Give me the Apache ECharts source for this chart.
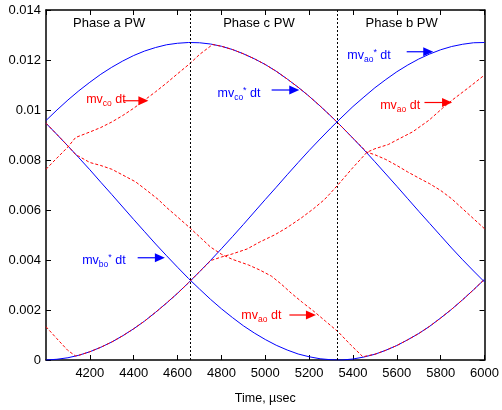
<!DOCTYPE html>
<html><head><meta charset="utf-8">
<script src="https://cdn.jsdelivr.net/npm/echarts@6/dist/echarts.min.js"></script>
<style>html,body{margin:0;padding:0;background:#fff}#c{width:502px;height:410px}</style>
</head><body><div id="c"></div>
<script>
// ---- data ----
const times = [4000,4050,4100,4150,4200,4250,4300,4350,4400,4450,4500,4550,4600,4650,4700,4750,4800,4850,4900,4950,5000,5050,5100,5150,5200,5250,5300,5350,5400,5450,5500,5550,5600,5650,5700,5750,5800,5850,5900,5950,6000];
const mvCoRef = [0.00958,0.01000,0.01040,0.01077,0.01111,0.01143,0.01171,0.01196,0.01218,0.01236,0.01250,0.01261,0.01267,0.01270,0.01269,0.01264,0.01255,0.01242,0.01225,0.01205,0.01182,0.01155,0.01124,0.01091,0.01055,0.01016,0.00975,0.00932,0.00887,0.00841,0.00793,0.00744,0.00695,0.00645,0.00595,0.00546,0.00497,0.00448,0.00401,0.00356,0.00312];
const mvAoRef = [0.00000,0.00003,0.00009,0.00019,0.00033,0.00051,0.00072,0.00097,0.00125,0.00156,0.00191,0.00228,0.00267,0.00309,0.00353,0.00398,0.00445,0.00493,0.00542,0.00592,0.00642,0.00691,0.00741,0.00790,0.00838,0.00884,0.00929,0.00972,0.01014,0.01052,0.01089,0.01122,0.01153,0.01180,0.01204,0.01224,0.01241,0.01254,0.01263,0.01269,0.01270];
const mvBoRef = [0.00947,0.00902,0.00856,0.00809,0.00761,0.00711,0.00662,0.00612,0.00562,0.00513,0.00464,0.00417,0.00371,0.00326,0.00284,0.00243,0.00205,0.00170,0.00137,0.00108,0.00082,0.00059,0.00040,0.00024,0.00013,0.00005,0.00001,0.00000,0.00004,0.00012,0.00023,0.00039,0.00058,0.00081,0.00106,0.00135,0.00168,0.00203,0.00241,0.00281,0.00323];

const mvCoTimes = [4000,4050,4100,4135,4200,4250,4300,4350,4400,4450,4500,4550,4600,4658,4700,4760,4800,4850,4900,4950,5000,5050,5100,5150,5200,5250,5300,5350,5400,5464,5500,5550,5600,5650,5700,5750,5800,5850,5900,5950,6000];
const mvCo = [0.00763,0.00808,0.00852,0.00890,0.00912,0.00930,0.00952,0.00978,0.01007,0.01040,0.01073,0.01108,0.01145,0.01187,0.01222,0.01262,0.01255,0.01242,0.01225,0.01205,0.01182,0.01155,0.01124,0.01091,0.01055,0.01016,0.00975,0.00932,0.00887,0.00831,0.00821,0.00802,0.00778,0.00752,0.00728,0.00705,0.00678,0.00645,0.00605,0.00565,0.00525];

const mvBoTimes = [4000,4050,4100,4135,4200,4250,4300,4350,4408,4450,4512,4550,4600,4658,4700,4750,4800,4849,4924,4975,5029,5075,5119,5170,5224,5275,5332,5390,5445,5500,5550,5600,5650,5700,5750,5800,5850,5900,5950,6000];
const mvBo = [0.00947,0.00902,0.00856,0.00822,0.00790,0.00778,0.00763,0.00740,0.00713,0.00685,0.00642,0.00610,0.00572,0.00527,0.00493,0.00452,0.00423,0.00403,0.00380,0.00360,0.00335,0.00302,0.00267,0.00230,0.00193,0.00155,0.00113,0.00060,0.00013,0.00023,0.00039,0.00058,0.00081,0.00106,0.00135,0.00168,0.00203,0.00241,0.00281,0.00323];

const mvAoTimes = [4000,4050,4100,4135,4150,4200,4250,4300,4350,4400,4450,4500,4550,4600,4650,4700,4752,4800,4849,4917,4975,5044,5100,5164,5220,5269,5300,5333,5400,5464,5500,5561,5600,5673,5748,5808,5853,5928,6000];
const mvAo = [0.00133,0.00085,0.00038,0.00016,0.00019,0.00033,0.00051,0.00072,0.00097,0.00125,0.00156,0.00191,0.00228,0.00267,0.00309,0.00353,0.00398,0.00412,0.00424,0.00444,0.00472,0.00501,0.00530,0.00568,0.00605,0.00641,0.00670,0.00702,0.00770,0.00831,0.00845,0.00862,0.00880,0.00913,0.00960,0.01007,0.01040,0.01090,0.01140];

const phaseBounds = [4658, 5330];
const phaseNames = ['Phase a PW', 'Phase c PW', 'Phase b PW'];
const phaseNameTimes = [4288, 4971, 5622];
const xTicks = {min: 4000, max: 6000, step: 200};
const yTicks = {min: 0, max: 0.014, step: 0.002};

// ---- chart ----
const FONT = '"Liberation Sans", Arial, Helvetica, sans-serif';
const BLUE = '#0000ff', RED = '#ff0000';
const chart = echarts.init(document.getElementById('c'), null, {renderer: 'canvas'});
const pairs = (t, v) => t.map((x, i) => [x, v[i]]);

function xAx(pos, show) {
  return {type: 'value', position: pos, min: xTicks.min, max: xTicks.max, interval: xTicks.step,
    axisLine: {show: true, onZero: false, lineStyle: {color: '#000', width: 1.5}},
    axisTick: {show: true, inside: true, length: 5, lineStyle: {color: '#000', width: 1}},
    axisLabel: {show: show, showMinLabel: false, color: '#000', fontSize: 13, fontFamily: FONT, margin: 7,
      formatter: v => String(v)},
    splitLine: {show: false},
    name: show ? 'Time, µsec' : '', nameLocation: 'middle', nameGap: 32,
    nameTextStyle: {color: '#000', fontSize: 12.5, fontFamily: FONT}};
}
function yAx(pos, show) {
  return {type: 'value', position: pos, min: yTicks.min, max: yTicks.max, interval: yTicks.step,
    axisLine: {show: true, onZero: false, lineStyle: {color: '#000', width: 1.5}},
    axisTick: {show: true, inside: true, length: 5, lineStyle: {color: '#000', width: 1}},
    axisLabel: {show: show, color: '#000', fontSize: 13, fontFamily: FONT, margin: 5},
    splitLine: {show: false}};
}
function blue(name, v) {
  return {name, type: 'line', data: pairs(times, v), showSymbol: false, symbol: 'none',
    lineStyle: {color: BLUE, width: 1}, z: 2};
}
function red(name, t, v) {
  return {name, type: 'line', data: pairs(t, v), showSymbol: false, symbol: 'none',
    lineStyle: {color: RED, width: 1, type: [3, 2]}, z: 3};
}

chart.setOption({
  animation: false,
  grid: {left: 46, right: 11, top: 10, bottom: 50},
  xAxis: [xAx('bottom', true), xAx('top', false)],
  yAxis: [yAx('left', true), yAx('right', false)],
  series: [
    blue('mvco*', mvCoRef), blue('mvao*', mvAoRef), blue('mvbo*', mvBoRef),
    red('mvco', mvCoTimes, mvCo), red('mvbo', mvBoTimes, mvBo), red('mvao', mvAoTimes, mvAo),
    {type: 'line', data: [], markLine: {silent: true, symbol: 'none', label: {show: false},
      lineStyle: {color: '#000', width: 1, type: [2, 2]},
      data: phaseBounds.map(x => ({xAxis: x}))}}
  ]
});

// ---- annotations (placed in data coordinates) ----
function rich(color) {
  return {
    b: {fontSize: 12.5, fontFamily: FONT, fill: color, color, lineHeight: 16, verticalAlign: 'middle'},
    s: {fontSize: 8.5, fontFamily: FONT, fill: color, color, lineHeight: 8, verticalAlign: 'bottom'},
    u: {fontSize: 9, fontFamily: FONT, fill: color, color, lineHeight: 8, verticalAlign: 'top'}
  };
}
const notes = [
  {t: '{b|mv}{s|co}{b| dt}', c: RED, at: [4183, 0.0104], a: [[4352, 0.01037], [4467, 0.01037]]},
  {t: '{b|mv}{s|co}{u|*}{b| dt}', c: BLUE, at: [4782, 0.01064], a: [[5029, 0.0108], [5155, 0.0108]]},
  {t: '{b|mv}{s|ao}{u|*}{b| dt}', c: BLUE, at: [5374, 0.01217], a: [[5645, 0.01233], [5766, 0.01233]]},
  {t: '{b|mv}{s|ao}{b| dt}', c: RED, at: [5524, 0.01016], a: [[5726, 0.0103], [5852, 0.0103]]},
  {t: '{b|mv}{s|bo}{u|*}{b| dt}', c: BLUE, at: [4165, 0.00397], a: [[4418, 0.00409], [4542, 0.00409]]},
  {t: '{b|mv}{s|ao}{b| dt}', c: RED, at: [4891, 0.00176], a: [[5110, 0.0018], [5231, 0.0018]]}
];
const px = p => chart.convertToPixel({gridIndex: 0}, p);
const g = [];
notes.forEach(n => {
  const p = px(n.at);
  g.push({type: 'text', x: p[0], y: p[1], z: 10,
    style: {text: n.t, rich: rich(n.c), fill: n.c, align: 'left', verticalAlign: 'middle'}});
  const a0 = px(n.a[0]), a1 = px(n.a[1]);
  const hl = 10, hh = 4.5;
  g.push({type: 'line', z: 10, shape: {x1: a0[0], y1: a0[1], x2: a1[0] - hl + 1, y2: a1[1]},
    style: {stroke: n.c, lineWidth: 1.2}});
  g.push({type: 'polygon', z: 10, shape: {points: [[a1[0], a1[1]], [a1[0] - hl, a1[1] - hh], [a1[0] - hl, a1[1] + hh]]},
    style: {fill: n.c}});
});
phaseNames.forEach((s, i) => {
  const p = px([phaseNameTimes[i], 0.01345]);
  g.push({type: 'text', x: p[0], y: p[1], z: 10,
    style: {text: s, fill: '#000', font: '13px ' + FONT, align: 'center', verticalAlign: 'middle'}});
});
chart.setOption({graphic: g});
</script></body></html>
